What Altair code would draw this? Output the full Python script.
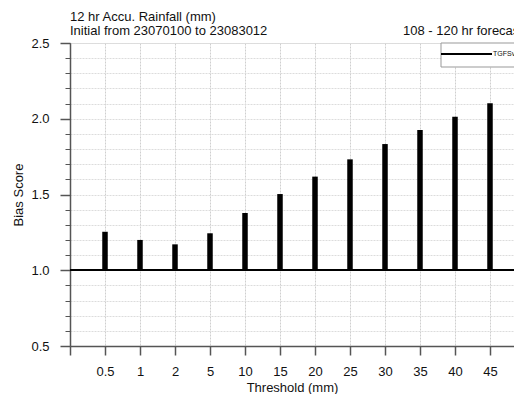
import altair as alt
import pandas as pd

thresholds = ["0.5", "1", "2", "5", "10", "15", "20", "25", "30", "35", "40", "45"]
bias = [1.254, 1.20, 1.171, 1.244, 1.378, 1.503, 1.618, 1.732, 1.833, 1.926, 2.014, 2.102]
series_name = "TGFSv1.x"
title_lines = ["12 hr Accu. Rainfall (mm)", "Initial from 23070100 to 23083012"]
title_right = "108 - 120 hr forecast"

df = pd.DataFrame({
    "idx": list(range(1, len(thresholds) + 1)),
    "label": thresholds,
    "bias": bias,
    "base": [1.0] * len(thresholds),
})

FONT = "Liberation Sans"
STEP = 35
W, H = 444, 303
XMAX = W / STEP

label_arr = "[''," + ",".join("'%s'" % t for t in thresholds) + ",'']"

x_scale = alt.Scale(domain=[0, XMAX], nice=False, zero=False, padding=0)
y_scale = alt.Scale(domain=[0.5, 2.5], nice=False, zero=False, padding=0)

grid_style = dict(gridColor="#cfcfcf", gridDash=[2, 1], gridWidth=1)

x_axis = alt.Axis(values=list(range(0, 13)), labelExpr=label_arr + "[datum.value]",
                  orient="bottom",
                  title="Threshold (mm)", titleFont=FONT, titleFontSize=13,
                  titleFontWeight="normal", titleColor="#111", titlePadding=3,
                  labelFont=FONT, labelFontSize=13, labelColor="#111", labelPadding=10,
                  labelOverlap=False, labelFlush=False,
                  tickSize=9, tickColor="#555", tickWidth=1.5,
                  domainColor="#555", domainWidth=1.5, grid=True, **grid_style)

minor_vals = [round(0.5 + 0.1 * i, 1) for i in range(21)]
minor = alt.Chart(df).mark_point(opacity=0).encode(
    x=alt.X("idx:Q", scale=x_scale, axis=x_axis),
    y=alt.Y("bias:Q", scale=y_scale,
            axis=alt.Axis(values=minor_vals, labels=False, title=None, tickSize=5, orient="left",
                          tickColor="#555", tickWidth=1, domain=False, grid=True,
                          gridColor="#dcdcdc", gridDash=[2, 1], gridWidth=1)),
)

major = alt.Chart(df).mark_point(opacity=0).encode(
    x=alt.X("idx:Q", scale=x_scale, axis=x_axis),
    y=alt.Y("bias:Q", scale=y_scale,
            axis=alt.Axis(values=[0.5, 1.0, 1.5, 2.0, 2.5], format=".1f", orient="left",
                          title="Bias Score", titleFont=FONT, titleFontSize=13,
                          titleFontWeight="normal", titleColor="#111", titlePadding=5,
                          labelFont=FONT, labelFontSize=13, labelColor="#111", labelPadding=11,
                          tickSize=10, tickColor="#555", tickWidth=1.5,
                          domainColor="#555", domainWidth=1.5, grid=False)),
)

bars = alt.Chart(df).mark_bar(color="black", width=5.5).encode(
    x=alt.X("idx:Q", scale=x_scale, axis=x_axis),
    y=alt.Y("base:Q", scale=y_scale, axis=None),
    y2="bias:Q",
)

one_line = alt.Chart(df).mark_rule(color="black", strokeWidth=1.5).encode(
    y=alt.YDatum(1.0, scale=y_scale, axis=None),
)

t1 = alt.Chart(pd.DataFrame({"t": [title_lines[0]]})).mark_text(
    align="left", baseline="alphabetic", font=FONT, fontSize=13, color="#111").encode(
    x=alt.value(0), y=alt.value(-22), text="t:N")
t2 = alt.Chart(pd.DataFrame({"t": [title_lines[1]]})).mark_text(
    align="left", baseline="alphabetic", font=FONT, fontSize=13, color="#111").encode(
    x=alt.value(0), y=alt.value(-8), text="t:N")
t3 = alt.Chart(pd.DataFrame({"t": [title_right]})).mark_text(
    align="left", baseline="alphabetic", font=FONT, fontSize=13, color="#111").encode(
    x=alt.value(333), y=alt.value(-8), text="t:N")

legend_box = alt.Chart(pd.DataFrame({"a": [0]})).mark_rect(fill="white", stroke="#999", strokeWidth=1).encode(
    x=alt.value(371), x2=alt.value(470), y=alt.value(0), y2=alt.value(24))
legend_line = alt.Chart(pd.DataFrame({"a": [0]})).mark_rule(color="black", strokeWidth=2).encode(
    x=alt.value(371), x2=alt.value(422), y=alt.value(11))
legend_text = alt.Chart(pd.DataFrame({"t": [series_name]})).mark_text(
    align="left", baseline="middle", font=FONT, fontSize=7, color="#111").encode(
    x=alt.value(423), y=alt.value(11), text="t:N")

chart = alt.layer(minor, major, bars, one_line, legend_box, legend_line, legend_text,
                  t1, t2, t3).resolve_axis(y="independent").properties(
    width=W, height=H,
    autosize=alt.AutoSizeParams(type="none"),
    padding={"left": 62, "top": 35, "right": 0, "bottom": 48},
).configure_view(stroke="#555", strokeWidth=1).configure(background="white")

chart.save("out.html", embed_options={"renderer": "svg", "actions": False})
